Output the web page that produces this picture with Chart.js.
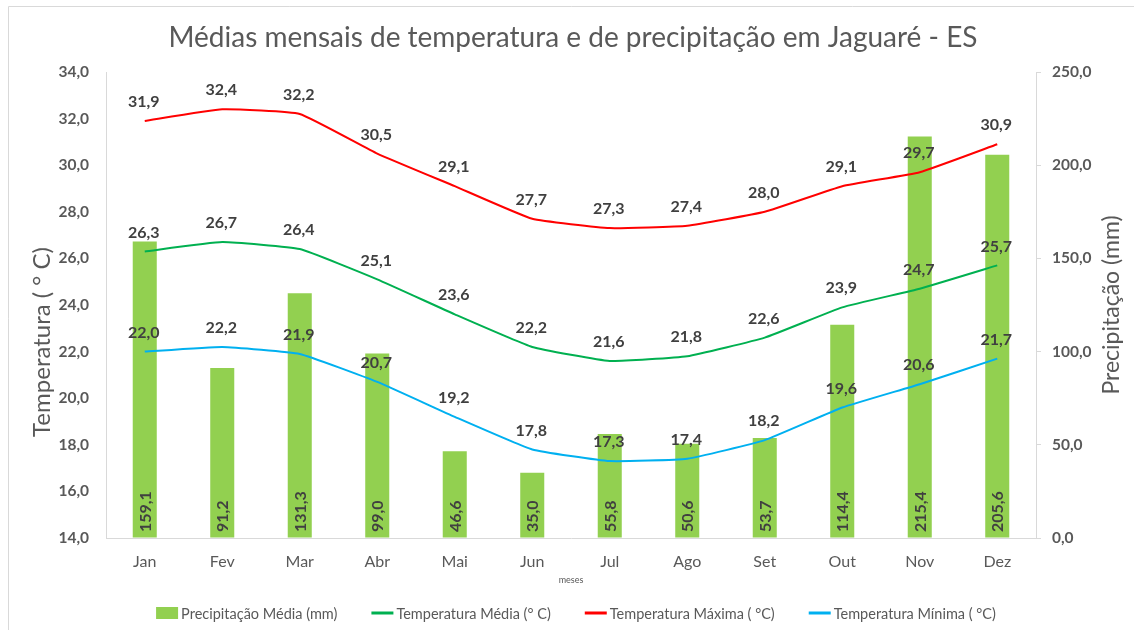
<!DOCTYPE html>
<html><head><meta charset="utf-8">
<script src="https://cdn.jsdelivr.net/npm/chart.js@4"></script>
<style>html,body{margin:0;padding:0;background:#fff}</style>
</head><body>
<canvas id="c" width="1134" height="630" style="display:block;width:1134px;height:630px"></canvas>
<script>
const months = ['Jan','Fev','Mar','Abr','Mai','Jun','Jul','Ago','Set','Out','Nov','Dez'];
const precipitacao = [159.1, 91.2, 131.3, 99.0, 46.6, 35.0, 55.8, 50.6, 53.7, 114.4, 215.4, 205.6];
const tempMedia = [26.3, 26.7, 26.4, 25.1, 23.6, 22.2, 21.6, 21.8, 22.6, 23.9, 24.7, 25.7];
const tempMaxima = [31.9, 32.4, 32.2, 30.5, 29.1, 27.7, 27.3, 27.4, 28.0, 29.1, 29.7, 30.9];
const tempMinima = [22.0, 22.2, 21.9, 20.7, 19.2, 17.8, 17.3, 17.4, 18.2, 19.6, 20.6, 21.7];
const tempTickRange = [14, 34, 2];
const precTickRange = [0, 250, 50];
const seriesNames = ['Precipitação Média (mm)', 'Temperatura Média (° C)', 'Temperatura Máxima ( °C)', 'Temperatura Mínima ( °C)'];
const chartTitle = 'Médias mensais de temperatura e de precipitação em Jaguaré - ES';
const leftTitle = 'Temperatura ( ° C)';
const rightTitle = 'Precipitação (mm)';
const xTitle = 'meses';

const FONT = 'Lato, "Open Sans", sans-serif';
const fmt = v => Number(v).toFixed(1).replace('.', ',');

const extras = {
  id: 'extras',
  beforeDraw(chart) {
    const ctx = chart.ctx;
    ctx.save();
    ctx.strokeStyle = '#d9d9d9';
    ctx.lineWidth = 1;
    ctx.beginPath();
    ctx.moveTo(8.5, 1134); ctx.lineTo(8.5, 6.5); ctx.lineTo(1134, 6.5);
    ctx.stroke();
    ctx.restore();
  },
  afterDatasetsDraw(chart) {
    const ctx = chart.ctx;
    const ca = chart.chartArea;
    ctx.save();
    const barMeta = chart.getDatasetMeta(0);
    ctx.fillStyle = '#404040';
    ctx.font = 'bold 16px ' + FONT;
    barMeta.data.forEach((el, i) => {
      ctx.save();
      ctx.translate(el.x, ca.bottom - 6);
      ctx.rotate(-Math.PI / 2);
      ctx.textAlign = 'left';
      ctx.textBaseline = 'middle';
      ctx.fillText(fmt(precipitacao[i]), 0, 1);
      ctx.restore();
    });
    ctx.font = 'bold 16px ' + FONT;
    ctx.textAlign = 'center';
    ctx.textBaseline = 'middle';
    [1, 2, 3].forEach(di => {
      const meta = chart.getDatasetMeta(di);
      const vals = chart.data.datasets[di].data;
      meta.data.forEach((el, i) => {
        ctx.fillText(fmt(vals[i]), el.x - 1, el.y - 19);
      });
    });
    ctx.restore();
  },
  afterDraw(chart) {
    const ctx = chart.ctx;
    ctx.save();
    ctx.fillStyle = '#595959';
    ctx.textAlign = 'center';
    ctx.textBaseline = 'middle';
    ctx.font = '28px ' + FONT;
    ctx.fillText(chartTitle, 573, 38);
    ctx.font = '9px ' + FONT;
    ctx.fillText(xTitle, 571, 580);
    ctx.font = '24px ' + FONT;
    ctx.save(); ctx.translate(42, 342); ctx.rotate(-Math.PI / 2); ctx.fillText(leftTitle, 0, 0); ctx.restore();
    ctx.font = '23px ' + FONT;
    ctx.save(); ctx.translate(1112, 305); ctx.rotate(-Math.PI / 2); ctx.fillText(rightTitle, 0, 0); ctx.restore();
    ctx.font = '14.5px ' + FONT;
    ctx.textAlign = 'left';
    const colors = chart.data.datasets.map(d => d.borderColor || d.backgroundColor);
    const boxW = 22, gapText = 3, gapItem = 34;
    const widths = seriesNames.map(s => boxW + gapText + ctx.measureText(s).width);
    const total = widths.reduce((a, b) => a + b, 0) + gapItem * (seriesNames.length - 1);
    let x = 576 - total / 2;
    const y = 613;
    seriesNames.forEach((s, i) => {
      if (i === 0) {
        ctx.fillStyle = chart.data.datasets[0].backgroundColor;
        ctx.fillRect(x, y - 6, boxW, 12);
      } else {
        ctx.strokeStyle = colors[i];
        ctx.lineWidth = 3;
        ctx.beginPath(); ctx.moveTo(x, y); ctx.lineTo(x + boxW, y); ctx.stroke();
      }
      ctx.fillStyle = '#595959';
      ctx.fillText(s, x + boxW + gapText, y + 1);
      x += widths[i] + gapItem;
    });
    ctx.restore();
  }
};

new Chart(document.getElementById('c'), {
  data: {
    labels: months,
    datasets: [
      { type: 'bar', label: seriesNames[0], data: precipitacao, yAxisID: 'y1', backgroundColor: '#92D050', order: 5,
        categoryPercentage: 1, barPercentage: 0.31 },
      { type: 'line', label: seriesNames[1], data: tempMedia, yAxisID: 'y', borderColor: '#00B050', borderWidth: 2, pointRadius: 0, tension: 0.12, order: 1 },
      { type: 'line', label: seriesNames[2], data: tempMaxima, yAxisID: 'y', borderColor: '#FF0000', borderWidth: 2, pointRadius: 0, tension: 0.12, order: 1 },
      { type: 'line', label: seriesNames[3], data: tempMinima, yAxisID: 'y', borderColor: '#00B0F0', borderWidth: 2, pointRadius: 0, tension: 0.12, order: 1 }
    ]
  },
  options: {
    responsive: false,
    animation: false,
    layout: { padding: { top: 72, left: 0, right: 0, bottom: 0 } },
    plugins: { legend: { display: false }, tooltip: { enabled: false }, title: { display: false } },
    scales: {
      x: {
        grid: { display: false, drawTicks: false },
        border: { display: true, color: '#d9d9d9' },
        ticks: { color: '#595959', font: { family: FONT, size: 16 }, padding: 14 },
        afterFit: s => { s.height = 92; }
      },
      y: {
        position: 'left', min: tempTickRange[0], max: tempTickRange[1],
        grid: { display: false, drawTicks: false },
        border: { display: true, color: '#d9d9d9' },
        ticks: { stepSize: tempTickRange[2], color: '#595959', font: { family: FONT, size: 15.5, weight: 'bold' }, padding: 17, callback: v => fmt(v) },
        afterFit: s => { s.width = 106; }
      },
      y1: {
        position: 'right', min: precTickRange[0], max: precTickRange[1],
        grid: { display: true, drawOnChartArea: false, drawTicks: true, tickLength: 5, color: '#d9d9d9' },
        border: { display: true, color: '#d9d9d9' },
        ticks: { stepSize: precTickRange[2], color: '#595959', font: { family: FONT, size: 15.5, weight: 'bold' }, padding: 11, callback: v => fmt(v) },
        afterFit: s => { s.width = 98; }
      }
    }
  },
  plugins: [extras]
});
</script>
</body></html>
